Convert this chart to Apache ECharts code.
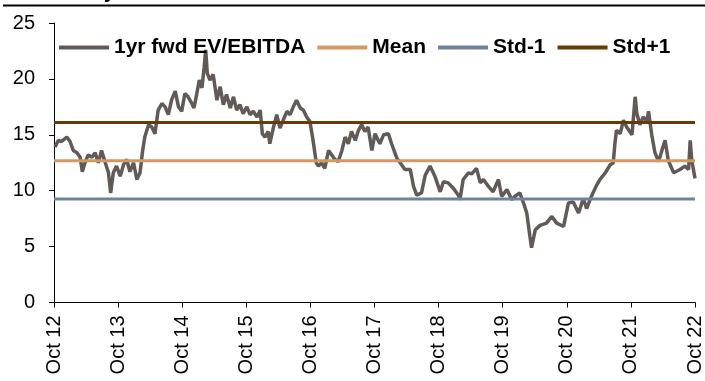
<!DOCTYPE html>
<html>
<head>
<meta charset="utf-8">
<script src="https://cdn.jsdelivr.net/npm/echarts@6/dist/echarts.min.js"></script>
<style>
  html, body { margin: 0; padding: 0; background: #fff; }
  #chart { width: 705px; height: 381px; }
</style>
</head>
<body>
<div id="chart"></div>
<script>
// Tick labels on the time axis (one per year, October)
const tickLabels = ['Oct 12', 'Oct 13', 'Oct 14', 'Oct 15', 'Oct 16', 'Oct 17',
                    'Oct 18', 'Oct 19', 'Oct 20', 'Oct 21', 'Oct 22'];

// Months elapsed since Oct 2012 for each observation
const months = [
  0.2, 0.8, 1.4, 2.4, 3.0, 3.6, 4.3, 4.9, 5.3, 5.8, 6.4, 7.1, 7.7, 8.3, 8.9, 9.6,
  10.2, 10.6, 11.1, 11.7, 12.4, 13.0, 13.6, 14.2, 14.9, 15.5, 16.1, 16.6, 17.0, 17.7,
  18.3, 18.9, 19.5, 20.2, 20.8, 21.4, 22.0, 22.7, 23.3, 23.9, 24.5, 25.1, 25.8, 26.2,
  26.7, 27.2, 27.7, 28.1, 28.4, 28.7, 29.2, 29.8, 30.5, 31.1, 31.7, 32.3, 33.0, 33.6,
  34.2, 34.8, 35.4, 36.1, 36.7, 37.3, 38.0, 38.6, 39.0, 39.5, 40.1, 40.4, 41.1, 41.7,
  42.3, 42.9, 43.6, 44.2, 44.8, 45.4, 46.1, 46.7, 47.3, 47.9, 48.5, 49.1, 49.5, 50.1,
  50.7, 51.4, 52.0, 52.6, 53.2, 53.9, 54.5, 55.1, 55.7, 56.4, 57.0, 57.6, 58.2, 58.8,
  59.5, 60.1, 60.7, 61.0, 61.7, 62.6, 63.2, 64.2, 64.8, 65.7, 66.7, 67.3, 67.9, 68.8,
  69.5, 70.4, 71.3, 72.3, 72.9, 73.8, 74.8, 75.7, 76.0, 76.6, 77.6, 78.2, 79.1, 79.8,
  80.4, 81.3, 82.2, 83.2, 83.8, 84.8, 85.7, 86.3, 87.2, 87.9, 88.5, 89.1, 89.4, 90.1,
  91.0, 92.2, 93.2, 94.1, 95.4, 96.3, 97.2, 98.2, 99.1, 99.7, 100.7, 101.6, 102.2,
  103.2, 104.1, 104.7, 105.0, 105.3, 106.0, 106.6, 107.2, 108.2, 108.8, 109.1, 109.7,
  110.3, 111.0, 111.3, 111.9, 112.5, 113.2, 113.8, 114.4, 115.0, 116.0, 117.2, 118.1,
  118.8, 119.1, 119.4, 120.0
];

// 1yr forward EV/EBITDA multiple
const evEbitda = [
  13.9, 14.5, 14.4, 14.8, 14.4, 13.6, 13.4, 13.0, 11.7, 12.5, 13.2, 13.0, 13.4, 12.5, 13.6, 12.5,
  11.6, 9.8, 11.6, 12.2, 11.3, 12.3, 12.8, 11.7, 12.5, 11.0, 11.6, 13.6, 14.8, 15.9,
  15.7, 15.1, 17.2, 17.8, 17.5, 16.8, 18.1, 18.9, 17.5, 17.1, 18.7, 18.4, 17.8, 17.4,
  18.6, 19.9, 19.2, 21.0, 22.6, 20.5, 19.9, 20.4, 18.1, 19.3, 17.7, 18.6, 17.4, 18.4,
  17.2, 17.7, 16.9, 17.5, 16.8, 17.1, 16.6, 17.2, 15.1, 14.8, 15.3, 14.2, 15.7, 16.8,
  15.6, 16.3, 17.1, 16.8, 17.5, 18.1, 17.4, 17.2, 16.6, 16.2, 14.5, 12.5, 12.2, 12.5,
  12.0, 13.6, 13.2, 12.8, 12.6, 13.6, 14.8, 14.2, 15.3, 14.5, 15.4, 15.9, 15.3, 15.7,
  13.6, 15.1, 14.5, 14.2, 15.0, 15.1, 14.2, 12.9, 12.5, 11.9, 11.9, 10.4, 9.6, 9.8,
  11.4, 12.2, 11.3, 9.9, 10.8, 10.7, 10.2, 9.6, 9.2, 11.0, 11.6, 11.5, 12.0, 10.7,
  11.0, 10.4, 9.9, 11.0, 9.5, 10.1, 9.2, 9.5, 9.8, 8.9, 8.0, 5.9, 4.9, 6.5,
  6.9, 7.1, 7.7, 7.1, 6.8, 8.9, 9.0, 8.0, 9.3, 8.4, 9.6, 10.5, 11.0,
  11.6, 12.3, 12.5, 14.2, 15.4, 15.1, 16.3, 15.7, 15.0, 18.4, 16.9, 15.9,
  16.6, 16.2, 17.1, 15.0, 13.4, 12.6, 13.6, 14.5, 12.7, 11.6, 11.9, 12.2,
  11.9, 14.5, 12.7, 11.1
];

// Long-run statistics of the multiple
const meanValue = 12.68;
const stdMinus1 = 9.25;
const stdPlus1 = 16.11;

const seriesNames = ['1yr fwd EV/EBITDA', 'Mean', 'Std-1', 'Std+1'];
const colors = ['#625a56', '#d29a62', '#6f83a1', '#6b3808'];

const xMin = 0, xMax = 120;
const flat = v => [[xMin, v], [xMax, v]];

const chart = echarts.init(document.getElementById('chart'), null, { renderer: 'canvas' });

chart.setOption({
  animation: false,
  backgroundColor: '#ffffff',
  color: colors,
  textStyle: { fontFamily: 'Liberation Sans, Arial, sans-serif' },
  graphic: [
    {
      type: 'line',
      shape: { x1: 3, y1: 5.5, x2: 705, y2: 5.5 },
      style: { stroke: '#000', lineWidth: 2 }
    },
    {
      type: 'text',
      x: 104, y: -8,
      style: {
        text: 'y',
        font: 'bold 20px Liberation Sans, Arial, sans-serif',
        fill: '#000',
        verticalAlign: 'middle'
      }
    }
  ],
  legend: {
    left: 54,
    top: 32,
    itemWidth: 50,
    itemHeight: 4,
    itemGap: 12,
    icon: 'rect',
    data: seriesNames,
    textStyle: {
      fontSize: 21,
      fontWeight: 'bold',
      color: '#000'
    }
  },
  grid: {
    left: 54,
    right: 10,
    top: 23,
    bottom: 78.5,
    containLabel: false,
    outerBoundsMode: 'none'
  },
  xAxis: {
    type: 'value',
    min: xMin,
    max: xMax,
    interval: 12,
    axisLine: { show: true, lineStyle: { color: '#000', width: 1 } },
    axisTick: { show: true, length: 5, lineStyle: { color: '#000' } },
    splitLine: { show: false },
    axisLabel: {
      rotate: 90,
      margin: 13,
      fontSize: 20,
      color: '#000',
      formatter: v => tickLabels[Math.round(v / 12)] || ''
    }
  },
  yAxis: {
    type: 'value',
    min: 0,
    max: 25,
    interval: 5,
    axisLine: { show: true, lineStyle: { color: '#000', width: 1 } },
    axisTick: { show: true, length: 5, lineStyle: { color: '#000' } },
    splitLine: { show: false },
    axisLabel: { margin: 19, fontSize: 20, color: '#000' }
  },
  series: [
    {
      name: seriesNames[0],
      type: 'line',
      data: months.map((m, i) => [m, evEbitda[i]]),
      symbol: 'none',
      lineStyle: { width: 3.5, color: colors[0] },
      z: 3
    },
    {
      name: seriesNames[1],
      type: 'line',
      data: flat(meanValue),
      symbol: 'none',
      lineStyle: { width: 3, color: colors[1] },
      z: 4
    },
    {
      name: seriesNames[2],
      type: 'line',
      data: flat(stdMinus1),
      symbol: 'none',
      lineStyle: { width: 3, color: colors[2] },
      z: 4
    },
    {
      name: seriesNames[3],
      type: 'line',
      data: flat(stdPlus1),
      symbol: 'none',
      lineStyle: { width: 3, color: colors[3] },
      z: 4
    }
  ]
});
</script>
</body>
</html>
